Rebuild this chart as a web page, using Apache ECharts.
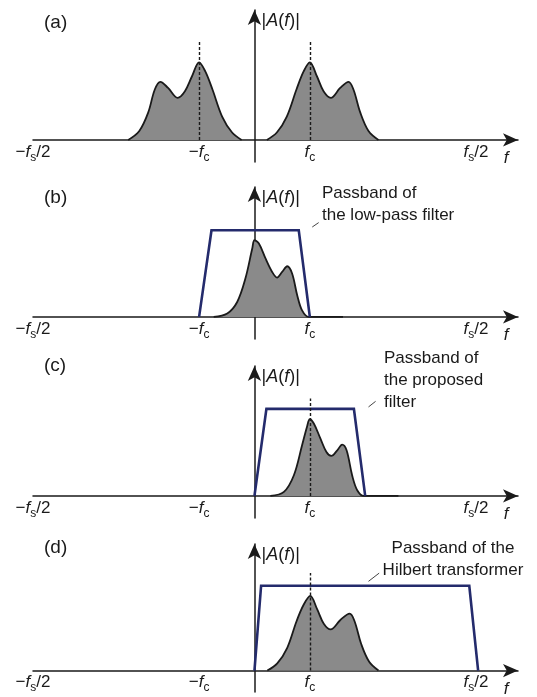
<!DOCTYPE html>
<html>
<head>
<meta charset="utf-8">
<script src="https://cdn.jsdelivr.net/npm/echarts@6/dist/echarts.min.js"></script>
<style>
  html, body { margin: 0; padding: 0; background: #fff; }
  #chart { width: 537px; height: 697px; }
</style>
</head>
<body>
<div id="chart"></div>
<script>
// frequency axis: fs/2 = 1, fc = 0.25
const tickValues = [-1, -0.25, 0.25, 1];
const tickLabels = ['{n|\u2212}{i|f}{s|s}{n|/2}', '{n|\u2212}{i|f}{s|c}', '{i|f}{s|c}', '{i|f}{s|s}{n|/2}'];
const panelLetters = ['(a)', '(b)', '(c)', '(d)'];

// (a) spectrum, two lobes around -fc and +fc
const specALeft = [[-0.57, 0], [-0.52, 0.069], [-0.48, 0.21], [-0.45, 0.388], [-0.425, 0.447], [-0.39, 0.40],
  [-0.347, 0.324], [-0.314, 0.375], [-0.282, 0.49], [-0.25, 0.597], [-0.222, 0.527], [-0.19, 0.39],
  [-0.146, 0.18], [-0.101, 0.057], [-0.058, 0]];
const specARight = [[0.056, 0], [0.101, 0.057], [0.146, 0.18], [0.19, 0.39], [0.222, 0.527], [0.25, 0.597],
  [0.282, 0.49], [0.312, 0.375], [0.345, 0.324], [0.387, 0.40], [0.425, 0.447], [0.447, 0.388],
  [0.478, 0.21], [0.515, 0.069], [0.56, 0]];

// (b) baseband spectrum + low-pass filter
const specB = [[-0.184, 0], [-0.123, 0.026], [-0.078, 0.115], [-0.041, 0.295], [-0.01, 0.526], [0, 0.59],
  [0.02, 0.565], [0.05, 0.45], [0.08, 0.346], [0.102, 0.303], [0.125, 0.346], [0.148, 0.39],
  [0.17, 0.334], [0.193, 0.167], [0.215, 0.05], [0.245, 0], [0.4, 0]];
const filterB = [[-0.25, 0], [-0.194, 0.667], [0.2, 0.667], [0.25, 0]];

// (c) one-sided spectrum + proposed filter
const specC = [[0.072, 0], [0.133, 0.031], [0.178, 0.159], [0.215, 0.39], [0.237, 0.531], [0.25, 0.59],
  [0.268, 0.557], [0.298, 0.441], [0.325, 0.338], [0.347, 0.308], [0.374, 0.351], [0.396, 0.395],
  [0.416, 0.351], [0.441, 0.159], [0.464, 0.044], [0.494, 0], [0.65, 0]];
const filterC = [[0, 0], [0.054, 0.67], [0.449, 0.67], [0.5, 0]];

// (d) one-sided spectrum + Hilbert transformer
const specD = [[0.058, 0], [0.103, 0.057], [0.148, 0.18], [0.19, 0.39], [0.222, 0.52], [0.252, 0.59],
  [0.283, 0.485], [0.313, 0.37], [0.344, 0.325], [0.388, 0.40], [0.43, 0.45], [0.452, 0.39],
  [0.482, 0.21], [0.518, 0.069], [0.56, 0]];
const filterD = [[0, 0], [0.03, 0.67], [0.97, 0.67], [1.01, 0]];

// dashed marker heights at fc
const dashA = 0.757, dashC = 0.75, dashD = 0.77;

// leader lines from passband to its caption
const leaderB = [[0.261, 0.692], [0.29, 0.726]];
const leaderC = [[0.515, 0.685], [0.547, 0.728]];
const leaderD = [[0.515, 0.705], [0.563, 0.77]];

const ink = '#1a1a1a';
const navy = '#242b6c';
const grey = '#8a8a8a';
const font = 'Liberation Sans, Arial, sans-serif';
const gridTops = [10, 187, 366, 544];

const richLabel = {
  n: { fontSize: 17, fontFamily: font, color: ink, verticalAlign: 'bottom', padding: [0, 0, 3, 0] },
  i: { fontSize: 17, fontFamily: font, color: ink, fontStyle: 'italic', verticalAlign: 'bottom', padding: [0, 0, 3, 0] },
  s: { fontSize: 12, fontFamily: font, color: ink, verticalAlign: 'bottom' }
};

const grids = [], xAxes = [], yAxes = [], series = [];
gridTops.forEach((top, k) => {
  grids.push({ left: 33, right: 19, top: top, height: 152 });
  xAxes.push({
    gridIndex: k, type: 'value', min: -1, max: 1.19,
    name: 'f', nameLocation: 'end', nameGap: -12,
    nameTextStyle: { fontSize: 17, fontFamily: font, fontStyle: 'italic', color: ink, align: 'center', verticalAlign: 'top', padding: [10, 0, 0, 0] },
    axisLine: { onZero: true, symbol: ['none', 'arrow'], symbolSize: [10, 15], lineStyle: { color: ink, width: 1.5 } },
    axisTick: { show: false },
    splitLine: { show: false },
    axisLabel: {
      // labels stay at the grid bottom, pull them up under the zero line
      customValues: tickValues, margin: -18,
      formatter: v => tickLabels[tickValues.indexOf(v)],
      rich: richLabel
    }
  });
  yAxes.push({
    gridIndex: k, type: 'value', min: -0.17, max: 1,
    name: '|{i|A}({i|f})|', nameLocation: 'end', nameGap: -11,
    nameTextStyle: {
      fontSize: 18, fontFamily: font, color: ink, align: 'left', verticalAlign: 'middle', padding: [0, 0, 0, 7],
      rich: { i: { fontSize: 18, fontFamily: font, color: ink, fontStyle: 'italic' } }
    },
    axisLine: { onZero: true, symbol: ['none', 'arrow'], symbolSize: [10, 15], lineStyle: { color: ink, width: 1.5 } },
    axisTick: { show: false },
    axisLabel: { show: false },
    splitLine: { show: false }
  });
});

function spectrum(k, data, dashTop) {
  const s = {
    type: 'line', xAxisIndex: k, yAxisIndex: k, data: data,
    smooth: 0.35, showSymbol: false, silent: true, z: 3,
    lineStyle: { color: ink, width: 1.8 },
    areaStyle: { color: grey, opacity: 1 }
  };
  if (dashTop != null) {
    s.markLine = {
      silent: true, symbol: 'none', label: { show: false },
      lineStyle: { color: ink, width: 1.4, type: [3, 2] },
      data: dashTop.map(d => [{ coord: [d[0], 0] }, { coord: [d[0], d[1]] }])
    };
  }
  return s;
}

function passband(k, data, leader) {
  return {
    type: 'line', xAxisIndex: k, yAxisIndex: k, data: data,
    showSymbol: false, silent: true, z: 4,
    lineStyle: { color: navy, width: 2.6, join: 'miter' },
    markLine: {
      silent: true, symbol: 'none', label: { show: false },
      lineStyle: { color: '#444', width: 1, type: 'solid' },
      data: [[{ coord: leader[0] }, { coord: leader[1] }]]
    }
  };
}

series.push(spectrum(0, specALeft, [[-0.25, dashA]]));
series.push(spectrum(0, specARight, [[0.25, dashA]]));
series.push(spectrum(1, specB, null));
series.push(passband(1, filterB, leaderB));
series.push(spectrum(2, specC, [[0.25, dashC]]));
series.push(passband(2, filterC, leaderC));
series.push(spectrum(3, specD, [[0.25, dashD]]));
series.push(passband(3, filterD, leaderD));

const textStyle = { font: '17px ' + font, fill: ink, lineHeight: 22 };
const graphic = panelLetters.map((t, k) => ({
  type: 'text', left: 44, top: [13, 188, 356, 538][k],
  style: { text: t, font: '19px ' + font, fill: ink }
}));
graphic.push({ type: 'text', x: 322, y: 182, style: Object.assign({ text: 'Passband of\nthe low-pass filter', align: 'left', verticalAlign: 'top' }, textStyle) });
graphic.push({ type: 'text', x: 384, y: 347, style: Object.assign({ text: 'Passband of\nthe proposed\nfilter', align: 'left', verticalAlign: 'top' }, textStyle) });
graphic.push({ type: 'text', x: 453, y: 537, style: Object.assign({ text: 'Passband of the\nHilbert transformer', align: 'center', verticalAlign: 'top' }, textStyle) });

const chart = echarts.init(document.getElementById('chart'));
chart.setOption({
  animation: false,
  backgroundColor: '#fff',
  grid: grids,
  xAxis: xAxes,
  yAxis: yAxes,
  series: series,
  graphic: graphic
});
</script>
</body>
</html>
